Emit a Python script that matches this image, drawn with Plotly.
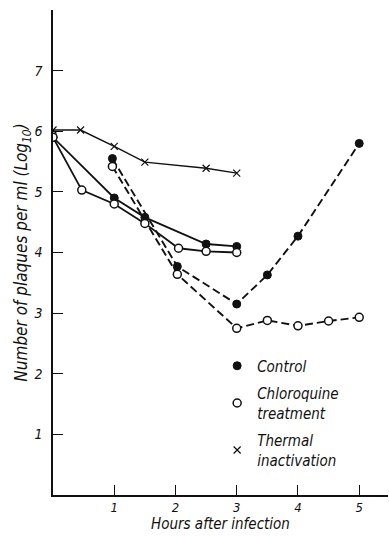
import plotly.graph_objects as go

# Data
thermal_x = [0, 0.45, 1.0, 1.5, 2.5, 3.0]
thermal_y = [6.02, 6.02, 5.75, 5.49, 5.39, 5.31]

ctrl_solid_x = [0, 1.0, 1.5, 2.5, 3.0]
ctrl_solid_y = [5.9, 4.9, 4.58, 4.14, 4.1]

chl_solid_x = [0, 0.47, 1.0, 1.5, 2.05, 2.5, 3.0]
chl_solid_y = [5.9, 5.03, 4.8, 4.48, 4.07, 4.02, 4.0]

ctrl_dash_x = [0.97, 2.03, 3.0, 3.5, 4.0, 5.0]
ctrl_dash_y = [5.55, 3.77, 3.15, 3.63, 4.27, 5.8]

chl_dash_x = [0.97, 2.03, 3.0, 3.5, 4.0, 4.5, 5.0]
chl_dash_y = [5.42, 3.64, 2.75, 2.88, 2.79, 2.87, 2.93]

x_ticks = [1, 2, 3, 4, 5]
y_ticks = [1, 2, 3, 4, 5, 6, 7]

legend_names = ["Control", "Chloroquine<br>treatment", "Thermal<br>inactivation"]

FONT = "Liberation Sans Narrow, DejaVu Sans Condensed, Arial Narrow, DejaVu Sans, sans-serif"
BLACK = "#111111"

fig = go.Figure()

dash = "8px,4px"
filled = dict(symbol="circle", size=8, color=BLACK, line=dict(color=BLACK, width=1))
hollow = dict(symbol="circle", size=8, color="white", line=dict(color=BLACK, width=1.5))
cross = dict(symbol="x-thin-open", size=7, color=BLACK, line=dict(color=BLACK, width=1.2))

fig.add_trace(go.Scatter(x=thermal_x, y=thermal_y, mode="lines+markers",
                         line=dict(color=BLACK, width=1.4), marker=cross, showlegend=False))
fig.add_trace(go.Scatter(x=ctrl_dash_x, y=ctrl_dash_y, mode="lines+markers",
                         line=dict(color=BLACK, width=1.9, dash=dash), marker=filled, showlegend=False))
fig.add_trace(go.Scatter(x=chl_dash_x, y=chl_dash_y, mode="lines+markers",
                         line=dict(color=BLACK, width=1.9, dash=dash), marker=hollow, showlegend=False))
fig.add_trace(go.Scatter(x=ctrl_solid_x, y=ctrl_solid_y, mode="lines+markers",
                         line=dict(color=BLACK, width=1.8), marker=filled, showlegend=False))
fig.add_trace(go.Scatter(x=chl_solid_x, y=chl_solid_y, mode="lines+markers",
                         line=dict(color=BLACK, width=1.8), marker=hollow, showlegend=False))

# legend-only entries
for name, mk, grp in zip(legend_names, [filled, hollow, cross], ["a", "b", "c"]):
    fig.add_trace(go.Scatter(x=[None], y=[None], mode="markers", marker=mk,
                             name=name, legendgroup=grp))

fig.update_layout(
    width=389, height=537,
    margin=dict(l=53, r=1, t=10, b=42),
    paper_bgcolor="white", plot_bgcolor="white",
    font=dict(family=FONT, size=14, color=BLACK, style="italic"),
    showlegend=True,
    legend=dict(x=0.49, y=0.30, xanchor="left", yanchor="top",
                bgcolor="rgba(0,0,0,0)", tracegroupgap=5,
                font=dict(family=FONT, size=15, color=BLACK, style="italic"),
                itemwidth=30),
)
fig.update_xaxes(range=[0, 5.47], tickvals=x_ticks, ticktext=[str(v) for v in x_ticks],
                 showline=True, linecolor=BLACK, linewidth=1.5, ticks="inside", ticklen=10,
                 tickcolor=BLACK, tickwidth=1, showgrid=False, zeroline=False,
                 ticklabelstandoff=0,
                 tickfont=dict(family=FONT, size=13, style="italic"),
                 title=dict(text="Hours after infection", standoff=3,
                            font=dict(family=FONT, size=15, style="italic")))
fig.update_yaxes(range=[0, 8.0], tickvals=y_ticks, ticktext=[str(v) for v in y_ticks],
                 showline=True, linecolor=BLACK, linewidth=1.5, ticks="inside", ticklen=10,
                 tickcolor=BLACK, tickwidth=1, showgrid=False, zeroline=False,
                 ticklabelstandoff=6,
                 tickfont=dict(family=FONT, size=14, style="italic"),
                 title=dict(text="Number of plaques per ml (Log<sub>10</sub>)", standoff=2,
                            font=dict(family=FONT, size=17, style="italic")))

fig.write_html("out.html")
